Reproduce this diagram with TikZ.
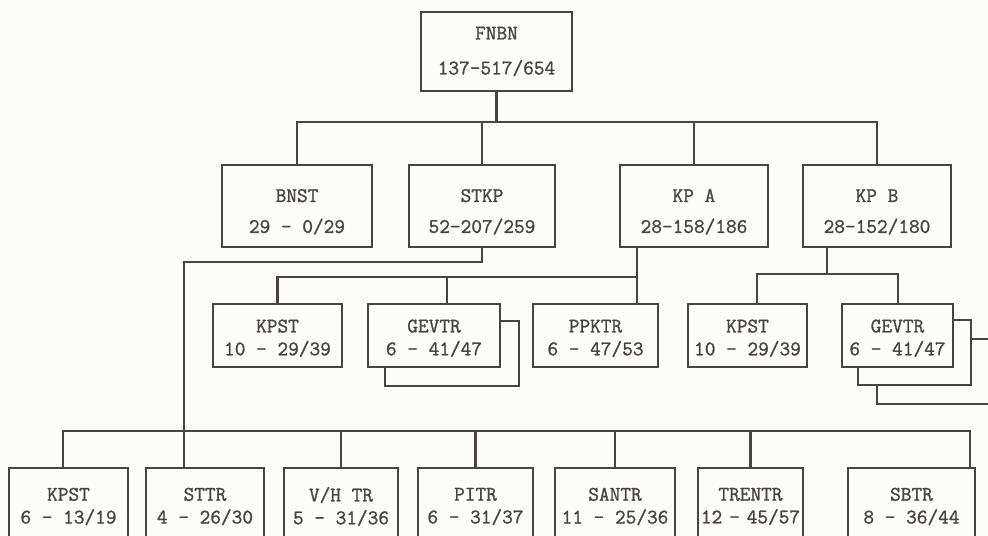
\documentclass[tikz,border=0pt]{standalone}
\usepackage{fontspec}
\setmonofont{Latin Modern Mono}[FakeBold=1.2]
\usetikzlibrary{positioning}
\definecolor{ink}{HTML}{4A4343}
\definecolor{paper}{HTML}{FCFCFB}
\newcommand{\boxfont}{\ttfamily\fontsize{11.8}{13}\selectfont}
\newcommand{\lift}[1]{\rule{0pt}{#1}}
\tikzset{
  unit/.style={draw=ink, line width=1.3pt, text=ink, font=\boxfont, align=center, inner xsep=0pt, inner ysep=2pt},
  link/.style={draw=ink, line width=1.3pt},
}

\begin{document}
\begin{tikzpicture}[x=0.02cm, y=-0.02cm]
\clip (0,0) rectangle (988,536);
\fill[paper] (0,0) rectangle (988,536);

% head
\node[unit, minimum width=3.02cm, minimum height=1.58cm] (FNBN) at (496.5,51.5) {FNBN\\[6.9pt]137-517/654};

% second level
\node[unit, minimum width=3cm, minimum height=1.64cm] (BNST) at (297,206) {\lift{14pt}BNST\\[4.6pt]29 - 0/29};
\node[unit, minimum width=2.92cm, minimum height=1.64cm] (STKP) at (482,206) {\lift{14pt}STKP\\[4.6pt]52-207/259};
\node[unit, minimum width=2.96cm, minimum height=1.64cm] (KPA) at (694,206) {\lift{14pt}KP A\\[4.6pt]28-158/186};
\node[unit, minimum width=2.96cm, minimum height=1.64cm] (KPB) at (877,206) {\lift{14pt}KP B\\[4.6pt]28-152/180};

% third level
\node[unit, minimum width=2.58cm, minimum height=1.26cm] (KPSTa) at (277.5,335.5) {\lift{10.5pt}KPST\\10 - 29/39};
\node[unit, minimum width=2.64cm, minimum height=1.26cm] (GEVTRa) at (434,335.5) {\lift{10.5pt}GEVTR\\6 - 41/47};
\node[unit, minimum width=2.5cm, minimum height=1.26cm] (PPKTR) at (595.5,335.5) {\lift{10.5pt}PPKTR\\6 - 47/53};
\node[unit, minimum width=2.38cm, minimum height=1.26cm] (KPSTb) at (747.5,335.5) {\lift{10.5pt}KPST\\10 - 29/39};
\node[unit, minimum width=2.22cm, minimum height=1.26cm] (GEVTRb) at (897.5,335.5) {\lift{10.5pt}GEVTR\\6 - 41/47};

% bottom level
\node[unit, minimum width=2.38cm, minimum height=1.54cm] (KPSTc) at (68.5,506.5) {KPST\\6 - 13/19};
\node[unit, minimum width=2.36cm, minimum height=1.54cm] (STTR) at (205,506.5) {STTR\\4 - 26/30};
\node[unit, minimum width=2.28cm, minimum height=1.54cm] (VHTR) at (341,506.5) {V/H TR\\5 - 31/36};
\node[unit, minimum width=2.3cm, minimum height=1.54cm] (PITR) at (475.5,506.5) {PITR\\6 - 31/37};
\node[unit, minimum width=2.4cm, minimum height=1.54cm] (SANTR) at (615,506.5) {SANTR\\11 - 25/36};
\node[unit, minimum width=2.1cm, minimum height=1.54cm, text width=2.1cm] (TRENTR) at (750.5,506.5) {TRENTR\\12 - 45/57};
\node[unit, minimum width=2.54cm, minimum height=1.54cm] (SBTR) at (911.5,506.5) {SBTR\\8 - 36/44};

% stacked copies behind GEVTR
\draw[link] ([shift={(0,18)}]GEVTRa.north east) -| ([shift={(18,18)}]GEVTRa.south east) -| ([shift={(18,0)}]GEVTRa.south west);
\foreach \d/\p in {17/0, 36/17}
  \draw[link] ([shift={(\p,\d)}]GEVTRb.north east) -| ([shift={(\d,\d)}]GEVTRb.south east) -| ([shift={(\d,\p)}]GEVTRb.south west);

% head to second level
\coordinate (top bus) at (497,122);
\draw[link] (FNBN.south) -- (FNBN.south |- top bus);
\draw[link] (BNST.north) |- (top bus) -| (KPB.north);
\draw[link] (STKP.north) -- (STKP.north |- top bus);
\draw[link] (KPA.north) -- (KPA.north |- top bus);

% KP A branch
\coordinate (kpa drop) at (637,277);
\draw[link] (KPA.south -| kpa drop) -- (PPKTR.north -| kpa drop);
\draw[link] (KPSTa.north) |- (kpa drop);
\coordinate (gevtr drop) at (447,277);
\draw[link] (GEVTRa.north -| gevtr drop) -- (gevtr drop);

% KP B branch
\coordinate (kpb drop) at (827,274);
\coordinate (kpb west) at (757,274);
\coordinate (kpb east) at (898,274);
\draw[link] (KPB.south -| kpb drop) -- (kpb drop);
\draw[link] (KPSTb.north -| kpb west) -- (kpb west) -- (kpb east) -- (GEVTRb.north -| kpb east);

% STKP branch to bottom level
\coordinate (stkp turn) at (184,262);
\draw[link] (STKP.south) |- (stkp turn) -- (STTR.north -| stkp turn);
\coordinate (low west) at (63,431);
\coordinate (low east) at (970,431);
\draw[link] (KPSTc.north -| low west) -- (low west) -- (low east) -- (SBTR.north -| low east);
\foreach \n in {VHTR, PITR, SANTR, TRENTR}
  \draw[link] (\n.north) -- (\n.north |- low west);
\end{tikzpicture}
\end{document}
